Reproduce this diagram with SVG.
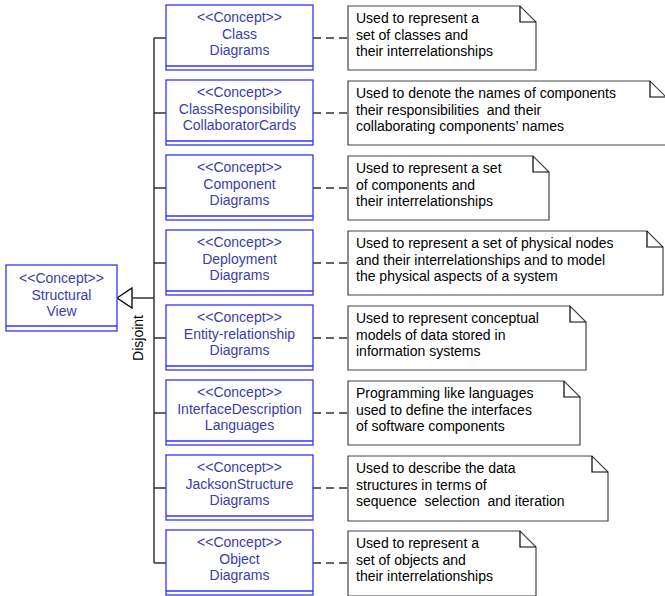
<svg xmlns="http://www.w3.org/2000/svg" width="665" height="596" viewBox="0 0 665 596">
  <style>
    .concept rect { fill: #ffffff; stroke: #3333ff; stroke-width: 1.3; }
    .concept line { stroke: #3333ff; stroke-width: 1.3; }
    .concept text { font-family: "Liberation Sans", Arial, sans-serif; font-size: 14px; fill: #3c3ca8; text-anchor: middle; }
    .note path { fill: #ffffff; stroke: #444444; stroke-width: 1.2; }
    .note path.fold { fill: none; stroke: #000000; }
    .note text { font-family: "Liberation Sans", Arial, sans-serif; font-size: 14px; fill: #000000; white-space: pre; }
    .dash { stroke: #333333; stroke-width: 1.5; stroke-dasharray: 8 5; fill: none; }
    .solid { stroke: #333333; stroke-width: 1.5; fill: none; }
    .label { font-family: "Liberation Sans", Arial, sans-serif; font-size: 14px; fill: #000000; text-anchor: middle; }
  </style>

  <!-- generalization tree and note anchors -->
  <g id="connectors">
    <polygon points="117,298 132,288 132,308" fill="#ffffff" stroke="#000000" stroke-width="1.3"/>
    <line class="solid" x1="132" y1="298" x2="154" y2="298"/>
    <line class="solid" x1="154" y1="38" x2="154" y2="563"/>
    <line class="solid" x1="154" y1="38" x2="166" y2="38"/>
    <line class="solid" x1="154" y1="113" x2="166" y2="113"/>
    <line class="solid" x1="154" y1="188" x2="166" y2="188"/>
    <line class="solid" x1="154" y1="263" x2="166" y2="263"/>
    <line class="solid" x1="154" y1="338" x2="166" y2="338"/>
    <line class="solid" x1="154" y1="413" x2="166" y2="413"/>
    <line class="solid" x1="154" y1="488" x2="166" y2="488"/>
    <line class="solid" x1="154" y1="563" x2="166" y2="563"/>
    <text class="label" transform="translate(143,338) rotate(-90)">Disjoint</text>
    <line class="dash" x1="313" y1="38" x2="348" y2="38"/>
    <line class="dash" x1="313" y1="113" x2="348" y2="113"/>
    <line class="dash" x1="313" y1="188" x2="348" y2="188"/>
    <line class="dash" x1="313" y1="263" x2="348" y2="263"/>
    <line class="dash" x1="313" y1="338" x2="348" y2="338"/>
    <line class="dash" x1="313" y1="413" x2="348" y2="413"/>
    <line class="dash" x1="313" y1="488" x2="348" y2="488"/>
    <line class="dash" x1="313" y1="563" x2="348" y2="563"/>
  </g>

  <!-- root concept -->
  <g id="structural-view" class="concept">
    <rect x="6" y="265" width="111" height="66"/>
    <line x1="6" y1="326" x2="117" y2="326"/>
    <text x="61.5" y="283">&lt;&lt;Concept&gt;&gt;</text>
    <text x="61.5" y="299.5">Structural</text>
    <text x="61.5" y="316">View</text>
  </g>

  <!-- child concepts -->
  <g id="class-diagrams" class="concept">
    <rect x="166" y="5" width="147" height="65"/>
    <line x1="166" y1="66" x2="313" y2="66"/>
    <text x="239.5" y="22">&lt;&lt;Concept&gt;&gt;</text>
    <text x="239.5" y="38.5">Class</text>
    <text x="239.5" y="55">Diagrams</text>
  </g>
  <g id="crc-cards" class="concept">
    <rect x="166" y="80" width="147" height="65"/>
    <line x1="166" y1="141" x2="313" y2="141"/>
    <text x="239.5" y="97">&lt;&lt;Concept&gt;&gt;</text>
    <text x="239.5" y="113.5">ClassResponsibility</text>
    <text x="239.5" y="130">CollaboratorCards</text>
  </g>
  <g id="component-diagrams" class="concept">
    <rect x="166" y="155" width="147" height="65"/>
    <line x1="166" y1="216" x2="313" y2="216"/>
    <text x="239.5" y="172">&lt;&lt;Concept&gt;&gt;</text>
    <text x="239.5" y="188.5">Component</text>
    <text x="239.5" y="205">Diagrams</text>
  </g>
  <g id="deployment-diagrams" class="concept">
    <rect x="166" y="230" width="147" height="65"/>
    <line x1="166" y1="291" x2="313" y2="291"/>
    <text x="239.5" y="247">&lt;&lt;Concept&gt;&gt;</text>
    <text x="239.5" y="263.5">Deployment</text>
    <text x="239.5" y="280">Diagrams</text>
  </g>
  <g id="er-diagrams" class="concept">
    <rect x="166" y="305" width="147" height="65"/>
    <line x1="166" y1="366" x2="313" y2="366"/>
    <text x="239.5" y="322">&lt;&lt;Concept&gt;&gt;</text>
    <text x="239.5" y="338.5">Entity-relationship</text>
    <text x="239.5" y="355">Diagrams</text>
  </g>
  <g id="idl" class="concept">
    <rect x="166" y="380" width="147" height="65"/>
    <line x1="166" y1="441" x2="313" y2="441"/>
    <text x="239.5" y="397">&lt;&lt;Concept&gt;&gt;</text>
    <text x="239.5" y="413.5">InterfaceDescription</text>
    <text x="239.5" y="430">Languages</text>
  </g>
  <g id="jackson-diagrams" class="concept">
    <rect x="166" y="455" width="147" height="65"/>
    <line x1="166" y1="516" x2="313" y2="516"/>
    <text x="239.5" y="472">&lt;&lt;Concept&gt;&gt;</text>
    <text x="239.5" y="488.5">JacksonStructure</text>
    <text x="239.5" y="505">Diagrams</text>
  </g>
  <g id="object-diagrams" class="concept">
    <rect x="166" y="530" width="147" height="65"/>
    <line x1="166" y1="591" x2="313" y2="591"/>
    <text x="239.5" y="547">&lt;&lt;Concept&gt;&gt;</text>
    <text x="239.5" y="563.5">Object</text>
    <text x="239.5" y="580">Diagrams</text>
  </g>

  <!-- notes -->
  <g id="note-class" class="note">
    <path d="M348,6 H520 L536,22 V70 H348 Z"/>
    <path class="fold" d="M520,6 V22 H536"/>
    <text x="356" y="23">Used to represent a</text>
    <text x="356" y="39.5">set of classes and</text>
    <text x="356" y="56">their interrelationships</text>
  </g>
  <g id="note-crc" class="note">
    <path d="M348,81 H650 L666,97 V145 H348 Z"/>
    <path class="fold" d="M650,81 V97 H666"/>
    <text x="356" y="98">Used to denote the names of components</text>
    <text x="356" y="114.5">their responsibilities  and their</text>
    <text x="356" y="131">collaborating components’ names</text>
  </g>
  <g id="note-component" class="note">
    <path d="M348,156 H533 L549,172 V220 H348 Z"/>
    <path class="fold" d="M533,156 V172 H549"/>
    <text x="356" y="173">Used to represent a set</text>
    <text x="356" y="189.5">of components and</text>
    <text x="356" y="206">their interrelationships</text>
  </g>
  <g id="note-deployment" class="note">
    <path d="M348,231 H647 L663,247 V295 H348 Z"/>
    <path class="fold" d="M647,231 V247 H663"/>
    <text x="356" y="248">Used to represent a set of physical nodes</text>
    <text x="356" y="264.5">and their interrelationships and to model</text>
    <text x="356" y="281">the physical aspects of a system</text>
  </g>
  <g id="note-er" class="note">
    <path d="M348,306 H570 L586,322 V370 H348 Z"/>
    <path class="fold" d="M570,306 V322 H586"/>
    <text x="356" y="323">Used to represent conceptual</text>
    <text x="356" y="339.5">models of data stored in</text>
    <text x="356" y="356">information systems</text>
  </g>
  <g id="note-idl" class="note">
    <path d="M348,381 H564 L580,397 V445 H348 Z"/>
    <path class="fold" d="M564,381 V397 H580"/>
    <text x="356" y="398">Programming like languages</text>
    <text x="356" y="414.5">used to define the interfaces</text>
    <text x="356" y="431">of software components</text>
  </g>
  <g id="note-jackson" class="note">
    <path d="M348,456 H592 L608,472 V521 H348 Z"/>
    <path class="fold" d="M592,456 V472 H608"/>
    <text x="356" y="473">Used to describe the data</text>
    <text x="356" y="489.5">structures in terms of</text>
    <text x="356" y="506">sequence  selection  and iteration</text>
  </g>
  <g id="note-object" class="note">
    <path d="M348,531 H520 L536,547 V596 H348 Z"/>
    <path class="fold" d="M520,531 V547 H536"/>
    <text x="356" y="548">Used to represent a</text>
    <text x="356" y="564.5">set of objects and</text>
    <text x="356" y="581">their interrelationships</text>
  </g>
</svg>
